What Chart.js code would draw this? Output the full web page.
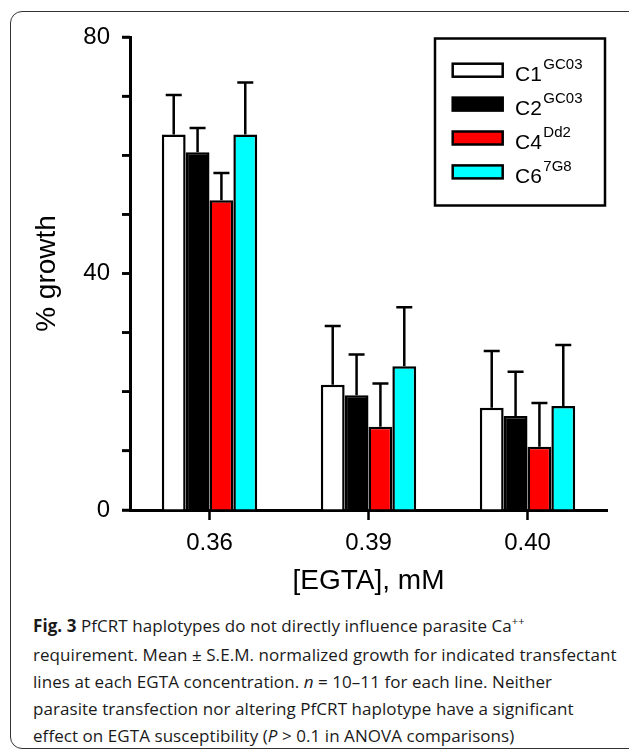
<!DOCTYPE html>
<html>
<head>
<meta charset="utf-8">
<script src="https://cdn.jsdelivr.net/npm/chart.js@4.4.1/dist/chart.umd.min.js"></script>
<style>
  body { margin: 0; background: #fff; width: 629px; height: 751px; overflow: hidden; position: relative; }
  #frame { position: absolute; left: 10px; top: 11px; width: 700px; height: 738px; border: 1.5px solid #333; border-radius: 12px; box-sizing: border-box; }
  #chart { position: absolute; left: 0; top: 0; }
  #caption { position: absolute; left: 33px; top: 612px; font-family: "Open Sans", sans-serif; font-size: 17px; line-height: 27px; color: #1a1a1a; white-space: nowrap; }
  #caption sup { font-size: 11px; vertical-align: 0; position: relative; top: -7px; }
</style>
</head>
<body>
<div id="frame"></div>
<canvas id="chart" width="629" height="600"></canvas>
<div id="caption">
  <div class="ln"><b>Fig. 3</b> PfCRT haplotypes do not directly influence parasite Ca<sup>++</sup></div>
  <div class="ln">requirement. Mean ± S.E.M. normalized growth for indicated transfectant</div>
  <div class="ln">lines at each EGTA concentration. <i>n</i> = 10–11 for each line. Neither</div>
  <div class="ln">parasite transfection nor altering PfCRT haplotype have a significant</div>
  <div class="ln">effect on EGTA susceptibility (<i>P</i> &gt; 0.1 in ANOVA comparisons)</div>
</div>
<script>
// ==========================
// Data
// ==========================

const categories = ["0.36", "0.39", "0.40"];

const lineNames = ["C1", "C2", "C4", "C6"];
const lineHaplotypes = ["GC03", "GC03", "Dd2", "7G8"];
const lineColors = ["#ffffff", "#000000", "#ff0000", "#00ffff"];

// mean % growth per EGTA concentration
const c1Growth = [63.5, 21.2, 17.3];
const c2Growth = [60.5, 19.4, 15.9];
const c4Growth = [52.4, 14.1, 10.7];
const c6Growth = [63.5, 24.3, 17.6];

// S.E.M. (drawn upward only)
const c1Sem = [6.7, 9.9, 9.6];
const c2Sem = [4.1, 6.9, 7.5];
const c4Sem = [4.6, 7.3, 7.4];
const c6Sem = [8.8, 10.0, 10.3];

const growthSeries = [c1Growth, c2Growth, c4Growth, c6Growth];
const semSeries = [c1Sem, c2Sem, c4Sem, c6Sem];

const yMin = 0;
const yMax = 80;
const yStep = 10;
const yLabelledTicks = [0, 40, 80];

// ==========================
// Plugins
// ==========================

const errorBarPlugin = {
  id: "errorBars",
  afterDatasetsDraw(chart) {
    const ctx = chart.ctx;
    const yScale = chart.scales.y;
    ctx.save();
    ctx.strokeStyle = "#000";
    ctx.lineWidth = 2.5;
    chart.data.datasets.forEach((ds, i) => {
      const meta = chart.getDatasetMeta(i);
      meta.data.forEach((bar, j) => {
        const top = yScale.getPixelForValue(growthSeries[i][j] + semSeries[i][j]);
        ctx.beginPath();
        ctx.moveTo(bar.x, bar.y);
        ctx.lineTo(bar.x, top);
        ctx.moveTo(bar.x - 8, top);
        ctx.lineTo(bar.x + 8, top);
        ctx.stroke();
      });
    });
    ctx.restore();
  },
};

// minor tick marks every yStep (chart.js skips the unlabelled ones)
const minorTickPlugin = {
  id: "minorTicks",
  afterDraw(chart) {
    const ctx = chart.ctx;
    const yScale = chart.scales.y;
    const axisX = chart.chartArea.left;
    ctx.save();
    ctx.strokeStyle = "#000";
    ctx.lineWidth = 2.5;
    for (let v = yMin; v <= yMax; v += yStep) {
      const py = yScale.getPixelForValue(v);
      ctx.beginPath();
      ctx.moveTo(axisX - 8, py);
      ctx.lineTo(axisX, py);
      ctx.stroke();
    }
    ctx.restore();
  },
};

const legendBoxPlugin = {
  id: "legendBox",
  afterDraw(chart) {
    const ctx = chart.ctx;
    const area = chart.chartArea;
    const boxW = 170;
    const boxH = 167;
    const boxX = area.right - 2 - boxW;
    const boxY = area.top + 1.5;

    ctx.save();
    ctx.strokeStyle = "#000";
    ctx.lineWidth = 2.5;
    ctx.strokeRect(boxX, boxY, boxW, boxH);

    chart.data.datasets.forEach((ds, i) => {
      const cy = boxY + 31.7 + i * 33.9;
      const sx = boxX + 17.7;
      ctx.fillStyle = ds.backgroundColor;
      ctx.fillRect(sx, cy - 6.5, 50, 13);
      ctx.strokeRect(sx, cy - 6.5, 50, 13);

      ctx.fillStyle = "#000";
      ctx.textBaseline = "alphabetic";
      ctx.textAlign = "left";
      ctx.font = "21px 'Liberation Sans', Arial, sans-serif";
      const tx = sx + 62.3;
      ctx.fillText(lineNames[i], tx, cy + 11);
      const w = ctx.measureText(lineNames[i]).width;
      ctx.font = "15px 'Liberation Sans', Arial, sans-serif";
      ctx.fillText(lineHaplotypes[i], tx + w + 1.5, cy - 1);
    });
    ctx.restore();
  },
};

// ==========================
// Chart
// ==========================

Chart.defaults.font.family = "'Liberation Sans', Arial, sans-serif";
Chart.defaults.color = "#000";

new Chart(document.getElementById("chart"), {
  type: "bar",
  data: {
    labels: categories,
    datasets: growthSeries.map((values, i) => ({
      label: lineNames[i] + lineHaplotypes[i],
      data: values,
      backgroundColor: lineColors[i],
      borderColor: "#000",
      borderWidth: 2.5,
      barPercentage: 1,
      categoryPercentage: 0.6,
    })),
  },
  options: {
    responsive: false,
    animation: false,
    layout: { padding: { left: 0, top: 37, right: 22, bottom: 0 } },
    plugins: {
      legend: { display: false },
      tooltip: { enabled: false },
    },
    scales: {
      x: {
        offset: true,
        grid: { display: true, drawOnChartArea: false, offset: false, tickLength: 10, tickWidth: 2.5, tickColor: "#000" },
        border: { display: true, color: "#000", width: 3 },
        ticks: { font: { size: 24 }, padding: 9, color: "#000" },
        title: { display: true, text: "[EGTA], mM", font: { size: 28 }, padding: { top: 0, bottom: 2 }, color: "#000" },
        afterFit(scale) { scale.width; scale.height = 90; },
      },
      y: {
        min: yMin,
        max: yMax,
        grid: { display: true, drawOnChartArea: false, tickLength: 8, tickWidth: 2.5, tickColor: "#000" },
        border: { display: true, color: "#000", width: 3 },
        ticks: {
          stepSize: yStep,
          autoSkip: false,
          font: { size: 24 },
          padding: 12,
          color: (c) => (yLabelledTicks.includes(c.tick.value) ? "#000" : "rgba(0,0,0,0)"),
        },
        title: { display: true, text: "% growth", font: { size: 28 }, padding: { top: 30, bottom: 0 }, color: "#000" },
        afterFit(scale) { scale.width = 130; },
      },
    },
  },
  plugins: [errorBarPlugin, minorTickPlugin, legendBoxPlugin],
});

// ==========================
// Caption fit (narrow figure font)
// ==========================

const captionLines = document.querySelectorAll("#caption .ln");
const lineTargets = [505, 575, 519, 535, 482];
let natural = 0;
let chars = 0;
captionLines.forEach((el) => {
  const span = document.createElement("span");
  span.innerHTML = el.innerHTML;
  el.innerHTML = "";
  el.appendChild(span);
  natural += span.getBoundingClientRect().width;
  chars += span.textContent.length;
});
const total = lineTargets.reduce((a, b) => a + b, 0);
document.getElementById("caption").style.letterSpacing = ((total - natural) / chars).toFixed(3) + "px";
</script>
</body>
</html>
